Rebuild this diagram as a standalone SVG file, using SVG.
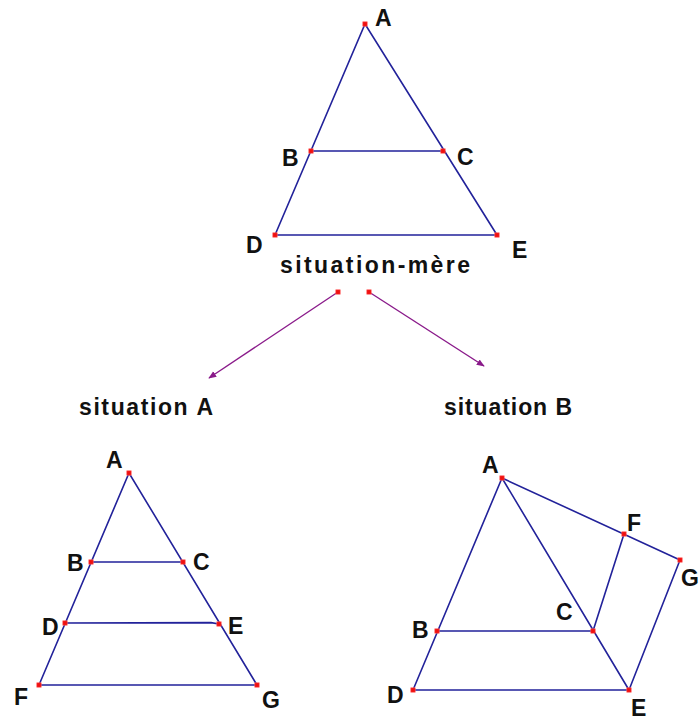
<svg xmlns="http://www.w3.org/2000/svg" width="699" height="722" viewBox="0 0 699 722">
<defs>
<style>
.seg{stroke:#22229a;stroke-width:1.6;fill:none;stroke-linecap:round}
.arr{stroke:#8a1a8a;stroke-width:1.4;fill:none}
.pt{fill:#f01010;stroke:#ff6060;stroke-width:0.6}
.lbl{font-family:"Liberation Sans",Arial,sans-serif;font-weight:bold;font-size:23px;fill:#111}
.ttl{font-family:"Liberation Sans",Arial,sans-serif;font-weight:bold;font-size:23px;fill:#111}
</style>
<marker id="ah" viewBox="0 0 10 10" refX="9" refY="5" markerWidth="8" markerHeight="8" markerUnits="userSpaceOnUse" orient="auto">
<path d="M0,1 L10,5 L0,9 Z" fill="#8a1a8a"/>
</marker>
<rect id="p" x="-2.2" y="-2.2" width="4.4" height="4.4" class="pt"/>
</defs>
<rect width="699" height="722" fill="#fff"/>
<g id="connectors">
<line class="arr" x1="338" y1="292" x2="209" y2="378" marker-end="url(#ah)"/>
<line class="arr" x1="369" y1="292" x2="484" y2="366" marker-end="url(#ah)"/>
</g>
<g id="situation-mere">
<polyline class="seg" points="275,235 365,24 497,235"/>
<line class="seg" x1="311" y1="151" x2="443" y2="151"/>
<line class="seg" x1="275" y1="235" x2="497" y2="235"/>
<use href="#p" x="365" y="24"/><use href="#p" x="311" y="151"/><use href="#p" x="443" y="151"/><use href="#p" x="275" y="235"/><use href="#p" x="497" y="235"/>
<use href="#p" x="338" y="292"/><use href="#p" x="369" y="292"/>
<text class="lbl" x="375" y="26">A</text>
<text class="lbl" x="282" y="166">B</text>
<text class="lbl" x="457" y="165">C</text>
<text class="lbl" x="246" y="253">D</text>
<text class="lbl" x="512" y="258">E</text>
<text class="ttl" x="280" y="273" textLength="190" lengthAdjust="spacing">situation-mère</text>
</g>
<g id="situation-A">
<text class="ttl" x="79" y="415" textLength="134" lengthAdjust="spacing">situation A</text>
<polyline class="seg" points="39,685 129,473 257,685"/>
<line class="seg" x1="91" y1="562" x2="183" y2="562"/>
<polyline class="seg" points="65,623 211,622.6 219,624"/>
<line class="seg" x1="39" y1="685" x2="257" y2="685"/>
<use href="#p" x="129" y="473"/><use href="#p" x="91" y="562"/><use href="#p" x="183" y="562"/><use href="#p" x="65" y="623"/><use href="#p" x="219" y="624"/><use href="#p" x="39" y="685"/><use href="#p" x="257" y="685"/>
<text class="lbl" x="106" y="468">A</text>
<text class="lbl" x="67" y="571">B</text>
<text class="lbl" x="193" y="570">C</text>
<text class="lbl" x="42" y="635">D</text>
<text class="lbl" x="228" y="634">E</text>
<text class="lbl" x="14" y="705">F</text>
<text class="lbl" x="262" y="708">G</text>
</g>
<g id="situation-B">
<text class="ttl" x="444" y="415" textLength="128" lengthAdjust="spacing">situation B</text>
<polyline class="seg" points="413,690 502,478 629,690"/>
<line class="seg" x1="502" y1="478" x2="680" y2="560"/>
<line class="seg" x1="437" y1="631" x2="593" y2="631"/>
<line class="seg" x1="413" y1="690" x2="629" y2="690"/>
<line class="seg" x1="593" y1="631" x2="624" y2="534"/>
<line class="seg" x1="629" y1="690" x2="680" y2="560"/>
<use href="#p" x="502" y="478"/><use href="#p" x="624" y="534"/><use href="#p" x="680" y="560"/><use href="#p" x="593" y="631"/><use href="#p" x="437" y="631"/><use href="#p" x="413" y="690"/><use href="#p" x="629" y="690"/>
<text class="lbl" x="482" y="473">A</text>
<text class="lbl" x="627" y="531">F</text>
<text class="lbl" x="681" y="586" font-size="22">G</text>
<text class="lbl" x="556" y="620">C</text>
<text class="lbl" x="412" y="638">B</text>
<text class="lbl" x="387" y="703">D</text>
<text class="lbl" x="631" y="716">E</text>
</g>
</svg>
